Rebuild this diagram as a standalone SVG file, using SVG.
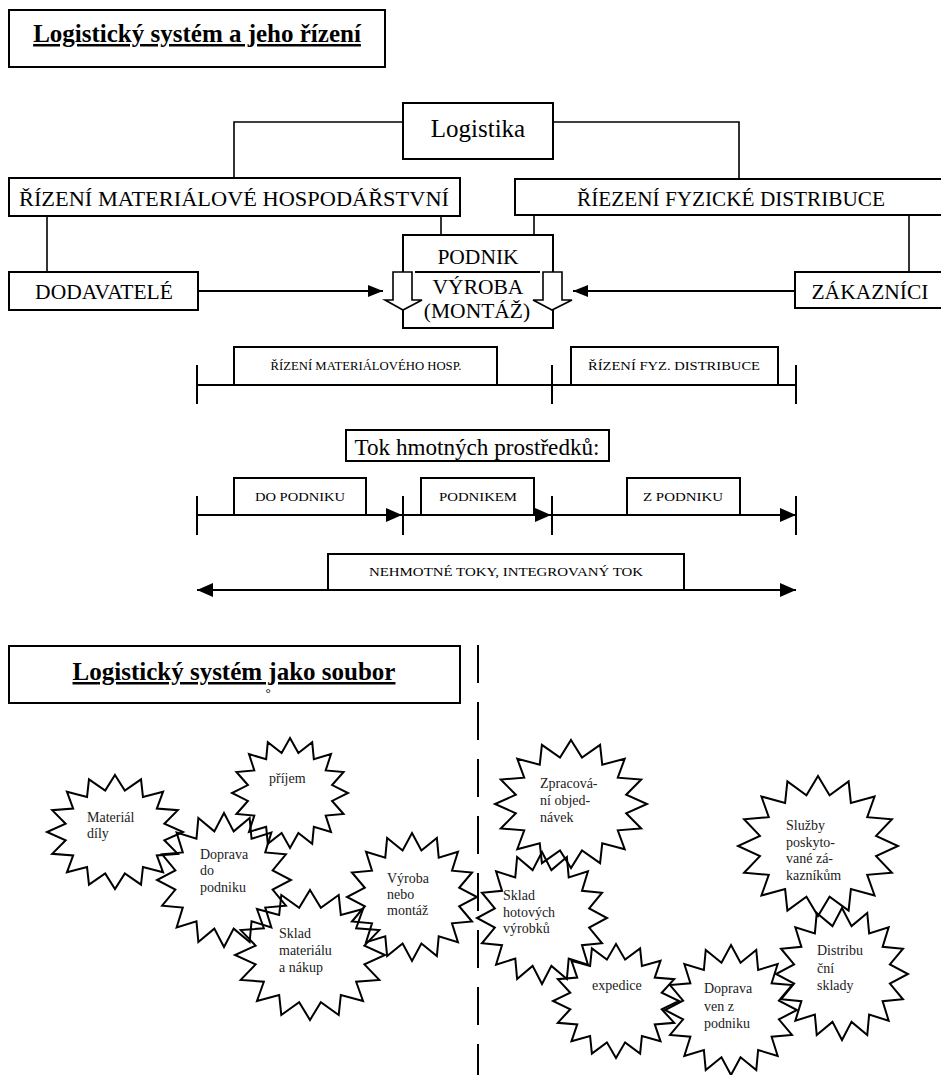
<svg xmlns="http://www.w3.org/2000/svg" xmlns:xlink="http://www.w3.org/1999/xlink" width="941" height="1075" viewBox="0 0 941 1075">
<style>
  .box{fill:#fff;stroke:#000;stroke-width:2}
  .ln{fill:none;stroke:#000;stroke-width:1.6}
  .tl{fill:none;stroke:#000;stroke-width:2}
  .t{font-family:"Liberation Serif","Times New Roman",serif;fill:#000}
  .big{font-size:21.5px}
  .sm{font-size:13px}
  .st{font-size:14px;fill:#222}
  .ttl{font-size:25px;font-weight:bold;text-decoration:underline}
  .star{fill:none;stroke:#000;stroke-width:2;stroke-linejoin:miter}
  .hol{fill:#fff;stroke:#000;stroke-width:1.6}
</style>
<defs>
  <marker id="ah" markerUnits="userSpaceOnUse" markerWidth="16" markerHeight="14" refX="16" refY="7" orient="auto-start-reverse">
    <path d="M0,0 L16,7 L0,14 Z" fill="#000"/>
  </marker>
  <marker id="ahs" markerUnits="userSpaceOnUse" markerWidth="15" markerHeight="12" refX="15" refY="6" orient="auto">
    <path d="M0,0 L15,6 L0,12 Z" fill="#000"/>
  </marker>
  <path id="seal" vector-effect="non-scaling-stroke" d="M0,-100 L14.44,-72.58 L38.27,-92.39 L41.11,-61.53 L70.71,-70.71 L61.53,-41.11 L92.39,-38.27 L72.58,-14.44 L100,0 L72.58,14.44 L92.39,38.27 L61.53,41.11 L70.71,70.71 L41.11,61.53 L38.27,92.39 L14.44,72.58 L0,100 L-14.44,72.58 L-38.27,92.39 L-41.11,61.53 L-70.71,70.71 L-61.53,41.11 L-92.39,38.27 L-72.58,14.44 L-100,0 L-72.58,-14.44 L-92.39,-38.27 L-61.53,-41.11 L-70.71,-70.71 L-41.11,-61.53 L-38.27,-92.39 L-14.44,-72.58 Z"/>
</defs>
<rect width="941" height="1075" fill="#fff"/>

<!-- connectors -->
<g id="connectors">
  <polyline class="ln" points="403,122 234,122 234,178"/>
  <polyline class="ln" points="553,122 739,122 739,179"/>
  <line class="ln" x1="47" y1="216" x2="47" y2="272"/>
  <line class="ln" x1="441" y1="216" x2="441" y2="235"/>
  <line class="ln" x1="534" y1="215" x2="534" y2="235"/>
  <line class="ln" x1="909" y1="215" x2="909" y2="272"/>
  <line class="tl" x1="198" y1="291" x2="383" y2="291" marker-end="url(#ahs)"/>
  <line class="tl" x1="795" y1="291" x2="573" y2="291" marker-end="url(#ahs)"/>
  <!-- management timeline -->
  <line class="tl" x1="196" y1="385" x2="796" y2="385"/>
  <line class="tl" x1="197" y1="365" x2="197" y2="404"/>
  <line class="tl" x1="552" y1="365" x2="552" y2="404"/>
  <line class="tl" x1="796" y1="365" x2="796" y2="404"/>
  <!-- material flow timeline -->
  <line class="tl" x1="197" y1="496" x2="197" y2="535"/>
  <line class="tl" x1="403" y1="496" x2="403" y2="535"/>
  <line class="tl" x1="552" y1="496" x2="552" y2="535"/>
  <line class="tl" x1="796" y1="496" x2="796" y2="535"/>
  <line class="tl" x1="197" y1="515" x2="402" y2="515" marker-end="url(#ah)"/>
  <line class="tl" x1="403" y1="515" x2="551" y2="515" marker-end="url(#ah)"/>
  <line class="tl" x1="552" y1="515" x2="796" y2="515" marker-end="url(#ah)"/>
  <line class="tl" x1="197" y1="590" x2="796" y2="590" marker-start="url(#ah)" marker-end="url(#ah)"/>
  <!-- dashed divider -->
  <line x1="478" y1="645" x2="478" y2="1075" stroke="#000" stroke-width="2" stroke-dasharray="38 19"/>
</g>

<g id="title1">
  <rect class="box" x="9" y="10" width="376" height="57"/>
  <text class="t ttl" x="197" y="42" text-anchor="middle">Logistický systém a jeho řízení</text>
</g>
<g id="logistika">
  <rect class="box" x="403" y="103" width="150" height="56"/>
  <text class="t" x="478" y="137" font-size="25" text-anchor="middle">Logistika</text>
</g>
<g id="rizeni-mat">
  <rect class="box" x="9" y="178" width="451" height="38"/>
  <text class="t big" x="234" y="206" text-anchor="middle" textLength="430" lengthAdjust="spacingAndGlyphs">ŘÍZENÍ MATERIÁLOVÉ HOSPODÁŘSTVNÍ</text>
</g>
<g id="rizeni-fyz">
  <rect class="box" x="515" y="179" width="440" height="36"/>
  <text class="t big" x="731" y="206" text-anchor="middle" textLength="308" lengthAdjust="spacingAndGlyphs">ŘÍEZENÍ FYZICKÉ DISTRIBUCE</text>
</g>
<g id="dodavatele">
  <rect class="box" x="9" y="272" width="189" height="38"/>
  <text class="t big" x="104" y="299" text-anchor="middle">DODAVATELÉ</text>
</g>
<g id="zakaznici">
  <rect class="box" x="795" y="272" width="160" height="36"/>
  <text class="t big" x="870" y="299" text-anchor="middle">ZÁKAZNÍCI</text>
</g>
<g id="podnik">
  <rect class="box" x="403" y="235" width="150" height="93"/>
  <line x1="415" y1="272" x2="540" y2="272" stroke="#000" stroke-width="2"/>
  <text class="t big" x="478" y="264" text-anchor="middle">PODNIK</text>
  <text class="t big" x="478" y="294" text-anchor="middle">VÝROBA</text>
  <text class="t big" x="477" y="318" text-anchor="middle">(MONTÁŽ)</text>
  <polygon class="hol" points="393,272 412,272 412,300 422,300 403,310 385,300 393,300"/>
  <polygon class="hol" points="543,272 562,272 562,300 572,300 552,310 533,300 543,300"/>
</g>
<g id="rizeni-mat-hosp">
  <rect class="box" x="234" y="347" width="263" height="38"/>
  <text class="t sm" x="366" y="370" text-anchor="middle" textLength="191" lengthAdjust="spacingAndGlyphs">ŘÍZENÍ MATERIÁLOVÉHO HOSP.</text>
</g>
<g id="rizeni-fyz-dist">
  <rect class="box" x="571" y="347" width="207" height="38"/>
  <text class="t sm" x="674" y="370" text-anchor="middle" textLength="172" lengthAdjust="spacingAndGlyphs">ŘÍZENÍ FYZ. DISTRIBUCE</text>
</g>
<g id="tok">
  <rect class="box" x="346" y="430" width="263" height="31"/>
  <text class="t" x="477" y="455" font-size="23" text-anchor="middle" textLength="245" lengthAdjust="spacingAndGlyphs">Tok hmotných prostředků:</text>
</g>
<g id="do-podniku">
  <rect class="box" x="234" y="478" width="132" height="37"/>
  <text class="t sm" x="300" y="501" text-anchor="middle" textLength="90" lengthAdjust="spacingAndGlyphs">DO PODNIKU</text>
</g>
<g id="podnikem">
  <rect class="box" x="421" y="478" width="113" height="37"/>
  <text class="t sm" x="478" y="501" text-anchor="middle" textLength="78" lengthAdjust="spacingAndGlyphs">PODNIKEM</text>
</g>
<g id="z-podniku">
  <rect class="box" x="627" y="478" width="113" height="37"/>
  <text class="t sm" x="683" y="501" text-anchor="middle" textLength="80" lengthAdjust="spacingAndGlyphs">Z PODNIKU</text>
</g>
<g id="nehmotne">
  <rect class="box" x="328" y="554" width="356" height="36"/>
  <text class="t sm" x="506" y="576" text-anchor="middle" textLength="274" lengthAdjust="spacingAndGlyphs">NEHMOTNÉ TOKY, INTEGROVANÝ TOK</text>
</g>
<g id="title2">
  <rect class="box" x="9" y="646" width="451" height="57"/>
  <text class="t ttl" x="234" y="680" text-anchor="middle">Logistický systém jako soubor</text>
  <text class="t" x="268" y="697" font-size="13" text-anchor="middle">°</text>
</g>

<g id="s-material">
  <use xlink:href="#seal" class="star" transform="translate(115,832) scale(0.68,0.57)"/>
  <text class="t st" x="87" y="822">Materiál</text>
  <text class="t st" x="87" y="838">díly</text>
</g>
<g id="s-prijem">
  <use xlink:href="#seal" class="star" transform="translate(290,793) scale(0.58,0.55)"/>
  <text class="t st" x="269" y="783">příjem</text>
</g>
<g id="s-doprava-do">
  <use xlink:href="#seal" class="star" transform="translate(224,880) scale(0.67,0.67)"/>
  <text class="t st" x="200" y="859">Doprava</text>
  <text class="t st" x="200" y="875">do</text>
  <text class="t st" x="200" y="892">podniku</text>
</g>
<g id="s-sklad-mat">
  <use xlink:href="#seal" class="star" transform="translate(310,955) scale(0.75,0.65)"/>
  <text class="t st" x="279" y="938">Sklad</text>
  <text class="t st" x="279" y="955">materiálu</text>
  <text class="t st" x="279" y="972">a nákup</text>
</g>
<g id="s-vyroba">
  <use xlink:href="#seal" class="star" transform="translate(412,897) scale(0.65,0.64)"/>
  <text class="t st" x="387" y="883">Výroba</text>
  <text class="t st" x="387" y="899">nebo</text>
  <text class="t st" x="387" y="915">montáž</text>
</g>
<g id="s-zpracovani">
  <use xlink:href="#seal" class="star" transform="translate(571,804) scale(0.76,0.64)"/>
  <text class="t st" x="540" y="788">Zpracová-</text>
  <text class="t st" x="540" y="805">ní objed-</text>
  <text class="t st" x="540" y="822">návek</text>
</g>
<g id="s-sklad-hot">
  <use xlink:href="#seal" class="star" transform="translate(542,918) scale(0.65,0.66)"/>
  <text class="t st" x="503" y="900">Sklad</text>
  <text class="t st" x="503" y="917">hotových</text>
  <text class="t st" x="503" y="933">výrobků</text>
</g>
<g id="s-sluzby">
  <use xlink:href="#seal" class="star" transform="translate(818,846) scale(0.80,0.70)"/>
  <text class="t st" x="786" y="830">Služby</text>
  <text class="t st" x="786" y="847">poskyto-</text>
  <text class="t st" x="786" y="863">vané zá-</text>
  <text class="t st" x="786" y="880">kazníkům</text>
</g>
<g id="s-distribucni">
  <use xlink:href="#seal" class="star" transform="translate(842,974) scale(0.66,0.66)"/>
  <text class="t st" x="817" y="955">Distribu</text>
  <text class="t st" x="817" y="973">ční</text>
  <text class="t st" x="817" y="990">sklady</text>
</g>
<g id="s-expedice">
  <use xlink:href="#seal" class="star" transform="translate(616,1001) scale(0.63,0.57)"/>
  <text class="t st" x="592" y="990">expedice</text>
</g>
<g id="s-doprava-ven">
  <use xlink:href="#seal" class="star" transform="translate(731,1010) scale(0.66,0.65)"/>
  <text class="t st" x="704" y="993">Doprava</text>
  <text class="t st" x="704" y="1011">ven z</text>
  <text class="t st" x="704" y="1028">podniku</text>
</g>
</svg>
